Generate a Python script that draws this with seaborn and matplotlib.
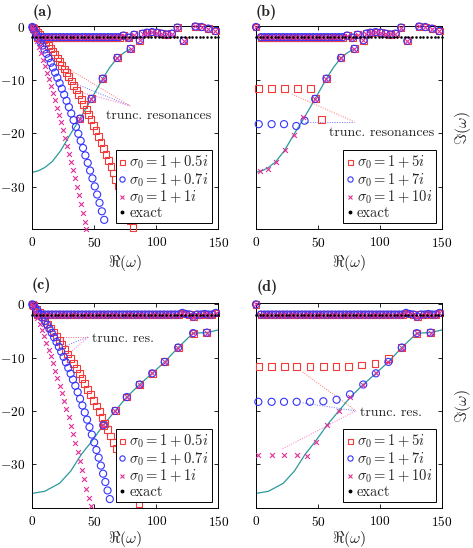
import matplotlib
matplotlib.use("Agg")
import matplotlib.pyplot as plt
import seaborn as sns
from matplotlib.lines import Line2D

# ---------- data ----------
# panels (a)/(b): shared top row of resonances and the teal branch
top_ab_x = [4, 7, 10, 13, 16, 19, 22, 25, 28, 31, 34, 37, 40, 43, 46, 49, 52, 55, 58, 61, 64, 67, 70,
            73.5, 77.7, 82, 86.7, 89, 92.5, 96.5, 100.5, 104.5, 108.5, 112.5, 117, 122, 131.5, 136.5, 142, 147.7]
top_ab_y = [-1.9, -1.9, -1.9, -1.9, -1.9, -1.9, -1.9, -1.9, -1.9, -1.9, -1.9, -1.9, -1.9, -1.9, -1.9,
            -1.9, -1.9, -1.9, -1.9, -1.9, -1.9, -1.9, -1.9,
            -1.6, -2.0, -1.45, -2.5, -1.25, -1.06, -0.95, -1.06, -1.25, -1.4, -1.25, -0.1, -2.6, 0.1, 0.0, -0.3, -0.75]
teal_ab_x = [0, 5, 10, 16, 23, 30, 38.5, 47.7, 56.8, 62.5, 68.5, 74, 79.3]
teal_ab_y = [-27.3, -27.0, -26.4, -25.3, -23.2, -20.4, -17.2, -13.5, -9.7, -7.6, -5.8, -4.8, -4.1]
res_ab_x = [47.7, 56.8, 68.5, 79.3]
res_ab_y = [-13.5, -9.7, -5.8, -4.1]

# panel (a): truncated resonances, sigma0 = 1 + 0.5i / 0.7i / 1i
sq_a_x = [1.0, 2.6, 4.2, 5.9, 7.6, 9.3, 11.0, 12.8, 14.6, 16.4, 18.2, 20.0, 21.9, 23.8, 25.7, 27.6, 29.5,
          31.4, 33.4, 35.4, 37.4, 39.4, 41.4, 43.4, 45.4, 47.4, 49.4, 51.4, 53.4, 55.4, 57.4, 59.4, 61.4,
          63.4, 65.4, 67.4, 69.4, 71.4, 73.4, 75.4, 77.4, 79.4, 81.2]
sq_a_y = [-0.24, -0.63, -1.03, -1.48, -1.94, -2.42, -2.92, -3.46, -4.02, -4.60, -5.20, -5.81, -6.48, -7.17,
          -7.88, -8.61, -9.37, -10.14, -10.97, -11.83, -12.71, -13.61, -14.54, -15.49, -16.46, -17.45,
          -18.47, -19.50, -20.57, -21.65, -22.75, -23.88, -25.04, -26.21, -27.41, -28.63, -29.87, -31.13,
          -32.43, -33.73, -35.07, -36.42, -37.6]
ci_a_x = [0.6, 2.0, 3.5, 5.0, 6.6, 8.2, 9.8, 11.5, 13.2, 14.9, 16.6, 18.4, 20.2, 22.0, 23.8, 25.7, 27.6,
          29.5, 31.4, 33.3, 35.2, 37.1, 39.0, 40.9, 42.8, 44.7, 46.6, 48.5, 50.4, 52.3, 54.2, 56.1, 58.0]
ci_a_y = [-0.24, -0.80, -1.42, -2.06, -2.76, -3.48, -4.22, -5.03, -5.86, -6.72, -7.60, -8.56, -9.54,
          -10.55, -11.59, -12.71, -13.86, -15.04, -16.25, -17.49, -18.76, -20.05, -21.38, -22.73, -24.12,
          -25.53, -26.97, -28.44, -29.94, -31.47, -33.03, -34.62, -36.23]
xx_a_x = [0.5, 2.1, 3.7, 5.3, 6.9, 8.5, 10.1, 11.7, 13.3, 14.9, 16.5, 18.1, 19.7, 21.3, 22.9, 24.5, 26.1,
          27.7, 29.3, 30.9, 32.5, 34.1, 35.7, 37.3, 38.9, 40.5, 42.1, 43.3]
xx_a_y = [-0.34, -1.45, -2.58, -3.73, -4.91, -6.11, -7.33, -8.57, -9.84, -11.13, -12.45, -13.78, -15.14,
          -16.53, -17.93, -19.36, -20.81, -22.29, -23.79, -25.31, -26.85, -28.42, -30.01, -31.63, -33.26,
          -34.92, -36.60, -37.88]
extra_a_x = [0, 38.4]
extra_a_y = [0, -17.2]

# panel (b): sigma0 = 1 + 5i / 7i / 10i
sq_b_x = [0, 2.2, 12.6, 22.8, 33.3, 43.8, 53.0]
sq_b_y = [0, -11.6, -11.6, -11.6, -11.6, -11.6, -17.4]
ci_b_x = [0, 2.2, 12.6, 22.6, 32.5, 39.2]
ci_b_y = [0, -18.25, -18.25, -18.25, -18.6, -17.6]
xx_b_x = [0, 3.2, 9.9, 16.1, 23.1, 30.4, 37.6]
xx_b_y = [0, -27.0, -26.6, -25.4, -23.1, -20.3, -16.9]

# panels (c)/(d): shared top row and the teal branch
top_cd_x = [4, 7, 10, 13, 16, 19, 22, 25, 28, 31, 34, 37, 40, 43, 46, 49, 52, 55, 58, 61, 64, 67, 70, 73,
            76, 79, 82, 85, 88, 91, 94, 97, 100, 103, 106, 109, 112, 115, 118, 121, 124, 127, 130, 133,
            136, 139, 142, 145, 148]
top_cd_y = [-1.9, -1.9, -1.9, -1.9, -1.9, -1.9, -1.9, -1.9, -1.9, -1.9, -1.9, -1.9, -1.9, -1.9, -1.9,
            -1.9, -1.9, -1.9, -1.9, -1.9, -1.9, -1.9, -1.9, -1.9, -1.9, -1.9, -1.9, -1.9, -1.9, -1.9,
            -1.9, -1.9, -1.9, -1.9, -1.9, -1.9, -1.9, -1.9, -1.9, -1.6, -1.8, -1.9, -2.3, -1.9, -1.9,
            -1.8, -1.9, -1.9, -1.6]
teal_cd_x = [0, 10, 22, 31, 39.5, 48, 57.2, 66.8, 76.2, 86.5, 96.7, 106.8, 117.6, 129.7, 140.8, 150]
teal_cd_y = [-35.5, -35.1, -33.6, -31.3, -28.2, -25.7, -22.7, -20.0, -17.4, -15.05, -12.95, -10.8, -8.1,
             -5.4, -5.3, -4.8]
res_cd_x = [57.2, 66.8, 76.2, 86.5, 96.7, 106.8, 117.6, 129.7, 140.8]
res_cd_y = [-22.7, -20.0, -17.4, -15.05, -12.95, -10.8, -8.1, -5.4, -5.3]

# panel (c): sigma0 = 1 + 0.5i / 0.7i / 1i
sq_c_x = [0, 1.0, 3.3, 5.6, 7.9, 10.2, 12.5, 14.8, 17.1, 19.4, 21.7, 24.0, 26.3, 28.6, 30.9, 33.2, 35.5,
          37.8, 40.1, 42.4, 44.7, 47.0, 49.3, 51.6, 53.9, 56.2, 58.5, 60.8, 63.1, 65.4, 67.7, 70.0, 72.3,
          74.6, 76.9, 79.2, 81.5, 83.8, 86.0]
sq_c_y = [0, -0.27, -0.91, -1.57, -2.25, -2.96, -3.68, -4.42, -5.18, -5.96, -6.77, -7.59, -8.44, -9.30,
          -10.19, -11.09, -12.02, -12.96, -13.93, -14.92, -15.93, -16.95, -18.00, -19.07, -20.16, -21.27,
          -22.40, -23.55, -24.72, -25.91, -27.13, -28.36, -29.61, -30.88, -32.18, -33.49, -34.83, -36.18,
          -37.49]
ci_c_x = [0.6, 2.4, 4.3, 6.2, 8.1, 10.0, 11.9, 13.8, 15.7, 17.6, 19.5, 21.4, 23.3, 25.2, 27.1, 29.0, 30.9,
          32.8, 34.7, 36.6, 38.5, 40.4, 42.3, 44.2, 46.1, 48.0, 49.9, 51.7, 53.5, 55.3, 57.1, 58.9, 60.7, 62.5]
ci_c_y = [-0.16, -0.65, -1.21, -1.81, -2.45, -3.12, -3.83, -4.58, -5.36, -6.19, -7.05, -7.95, -8.88, -9.85,
          -10.87, -11.91, -13.00, -14.12, -15.28, -16.48, -17.72, -18.99, -20.30, -21.65, -23.04, -24.46,
          -25.92, -27.34, -28.79, -30.28, -31.80, -33.35, -34.94, -36.56]
xx_c_x = [0.5, 2.3, 4.1, 5.9, 7.7, 9.5, 11.3, 13.1, 14.9, 16.7, 18.5, 20.3, 22.1, 23.9, 25.7, 27.5, 29.3,
          31.1, 32.9, 34.7, 36.5, 38.3, 40.1, 41.9, 43.7, 45.5, 47.0]
xx_c_y = [-0.29, -1.37, -2.48, -3.62, -4.79, -5.99, -7.22, -8.48, -9.77, -11.09, -12.44, -13.83, -15.24,
          -16.69, -18.16, -19.67, -21.21, -22.77, -24.38, -26.01, -27.66, -29.36, -31.08, -32.83, -34.61,
          -36.43, -37.9]

# panel (d): sigma0 = 1 + 5i / 7i / 10i
sq_d_x = [0, 2.5, 12.6, 22.8, 32.8, 43.5, 54.3, 64.5, 74.5, 85.2, 96.0, 106.7]
sq_d_y = [0, -11.7, -11.7, -11.7, -11.7, -11.7, -11.7, -11.7, -11.6, -11.4, -11.1, -10.1]
ci_d_x = [0, 1.9, 12.6, 22.6, 32.8, 43.5, 54.3, 65.0, 75.8]
ci_d_y = [0, -18.3, -18.3, -18.3, -18.3, -18.3, -18.2, -17.9, -16.9]
xx_d_x = [0, 1.9, 12.6, 22.6, 32.8, 41.4, 48.0]
xx_d_y = [0, -28.3, -28.3, -28.3, -28.3, -28.4, -25.8]

# exact resonances (black dots)
exact_x = [0, 3, 6, 9, 12, 15, 18, 21, 24, 27, 30, 33, 36, 39, 42, 45, 48, 51, 54, 57, 60, 63, 66, 69, 72,
           75, 78, 81, 84, 87, 90, 93, 96, 99, 102, 105, 108, 111, 114, 117, 120, 123, 126, 129, 132, 135,
           138, 141, 144, 147, 150]
exact_y = [-1.9] * len(exact_x)

labels_small = [r"$\sigma_0 = 1 + 0.5i$", r"$\sigma_0 = 1 + 0.7i$", r"$\sigma_0 = 1 + 1i$", "exact"]
labels_large = [r"$\sigma_0 = 1 + 5i$", r"$\sigma_0 = 1 + 7i$", r"$\sigma_0 = 1 + 10i$", "exact"]

# ---------- style ----------
RED = "#f23c3c"
BLUE = "#3434ff"
MAG = "#e0309a"
TEAL = "#2a9a9a"
FS = 10.5

sns.set_style("ticks")
plt.rcParams.update({
    "font.family": ["cmr10", "DejaVu Serif"],
    "mathtext.fontset": "cm",
    "axes.formatter.use_mathtext": True,
    "font.size": FS,
    "axes.edgecolor": "black",
    "axes.linewidth": 0.7,
    "xtick.direction": "in", "ytick.direction": "in",
    "xtick.top": True, "ytick.right": True,
    "xtick.major.size": 3, "ytick.major.size": 3,
    "xtick.major.width": 0.6, "ytick.major.width": 0.6,
    "xtick.color": "black", "ytick.color": "black",
    "xtick.labelsize": 9.6, "ytick.labelsize": 9.6,
    "xtick.major.pad": 5, "ytick.major.pad": 5.5,
})

fig = plt.figure(figsize=(4.73, 5.48), dpi=100)
ax_a = fig.add_axes([0.0683, 0.5816, 0.3932, 0.3706])
ax_b = fig.add_axes([0.5412, 0.5816, 0.3932, 0.3706])
ax_c = fig.add_axes([0.0683, 0.0724, 0.3932, 0.3741])
ax_d = fig.add_axes([0.5412, 0.0724, 0.3932, 0.3741])


def draw_panel(ax, teal, sq, ci, xx, labels, notes, text_pos, text, right, ylim, xlab_y):
    sns.lineplot(x=teal[0], y=teal[1], color=TEAL, lw=0.9, ax=ax, zorder=2, sort=False)
    for (x0, y0, x1, y1), c in notes:
        ax.plot([x0, x1], [y0, y1], ls=(0, (1, 1.5)), lw=0.7, color=c, zorder=1)
    ax.text(text_pos[0], text_pos[1], text, ha="left", va="center", fontsize=10, zorder=2)
    sns.scatterplot(x=sq[0], y=sq[1], marker="s", s=24, facecolor="none", edgecolor=RED,
                    linewidth=0.8, ax=ax, zorder=3, clip_on=False)
    sns.scatterplot(x=ci[0], y=ci[1], marker="o", s=26, facecolor="none", edgecolor=BLUE,
                    linewidth=0.8, ax=ax, zorder=4, clip_on=False)
    sns.scatterplot(x=xx[0], y=xx[1], marker="x", s=12, color=MAG,
                    linewidth=0.8, ax=ax, zorder=5, clip_on=False)
    sns.scatterplot(x=exact_x, y=exact_y, marker="o", s=3.5, color="black",
                    linewidth=0, ax=ax, zorder=6, clip_on=False)
    ax.set_xlim(0, 150)
    ax.set_ylim(*ylim)
    ax.set_xticks([0, 50, 100, 150])
    ax.set_yticks([-30, -20, -10, 0])
    ax.set_xlabel(r"$\Re(\omega)$", fontsize=11.5, va="center")
    ax.xaxis.set_label_coords(0.5, xlab_y)
    if right:
        ax.tick_params(labelleft=False)
        ax.yaxis.set_label_position("right")
        ax.set_ylabel(r"$\Im(\omega)$", fontsize=11.5, va="center")
        ax.yaxis.set_label_coords(1.113, 0.5)
    else:
        ax.set_ylabel("")
    handles = [
        Line2D([], [], ls="none", marker="s", ms=3.6, mfc="none", mec=RED, mew=0.8),
        Line2D([], [], ls="none", marker="o", ms=3.8, mfc="none", mec=BLUE, mew=0.8),
        Line2D([], [], ls="none", marker="x", ms=3.0, mec=MAG, mew=0.8),
        Line2D([], [], ls="none", marker="o", ms=1.8, mfc="black", mec="black"),
    ]
    leg = ax.legend(handles, labels, loc="lower right", frameon=True, fancybox=False,
                    edgecolor="black", framealpha=1, handlelength=0.4, handletextpad=0.3,
                    borderaxespad=0.4, labelspacing=0.0, borderpad=0.25, fontsize=FS)
    leg.get_frame().set_linewidth(0.7)
    leg.set_zorder(10)


# (a)
draw_panel(ax_a, (teal_ab_x, teal_ab_y),
           (extra_a_x + sq_a_x + top_ab_x + res_ab_x, extra_a_y + sq_a_y + top_ab_y + res_ab_y),
           (extra_a_x + ci_a_x + top_ab_x + res_ab_x, extra_a_y + ci_a_y + top_ab_y + res_ab_y),
           (extra_a_x + xx_a_x + top_ab_x + res_ab_x, extra_a_y + xx_a_y + top_ab_y + res_ab_y),
           labels_small,
           [((26.5, -7.5, 78.8, -14.8), "#ff7070"), ((27.7, -10.0, 78.8, -14.8), "#7070ff"),
            ((29.0, -11.6, 78.8, -14.8), "#ff70c8")],
           (59.5, -16.8), "trunc. resonances", False, (-38.0, 0.15), -0.167)
# (b)
draw_panel(ax_b, (teal_ab_x, teal_ab_y),
           (sq_b_x + top_ab_x + res_ab_x, sq_b_y + top_ab_y + res_ab_y),
           (ci_b_x + top_ab_x + res_ab_x, ci_b_y + top_ab_y + res_ab_y),
           (xx_b_x + top_ab_x + res_ab_x, xx_b_y + top_ab_y + res_ab_y),
           labels_large,
           [((28.8, -12.6, 79.2, -17.8), "#ff7070"), ((39.3, -17.8, 79.2, -17.8), "#7070ff")],
           (59.0, -19.9), "trunc. resonances", True, (-38.0, 0.15), -0.167)
# (c)
draw_panel(ax_c, (teal_cd_x, teal_cd_y),
           (sq_c_x + top_cd_x + res_cd_x, sq_c_y + top_cd_y + res_cd_y),
           ([0] + ci_c_x + top_cd_x + res_cd_x, [0] + ci_c_y + top_cd_y + res_cd_y),
           ([0] + xx_c_x + top_cd_x + res_cd_x, [0] + xx_c_y + top_cd_y + res_cd_y),
           labels_small,
           [((25.0, -6.1, 45.2, -6.1), "#ff7070"), ((27.7, -7.7, 45.2, -6.1), "#7070ff"),
            ((27.7, -9.6, 45.2, -6.1), "#ff70c8")],
           (48.5, -6.4), "trunc. res.", False, (-38.3, 0.2), -0.15)
# (d)
draw_panel(ax_d, (teal_cd_x, teal_cd_y),
           (sq_d_x + top_cd_x + res_cd_x[6:], sq_d_y + top_cd_y + res_cd_y[6:]),
           (ci_d_x + top_cd_x + res_cd_x[3:], ci_d_y + top_cd_y + res_cd_y[3:]),
           (xx_d_x + top_cd_x + res_cd_x, xx_d_y + top_cd_y + res_cd_y),
           labels_large,
           [((37.6, -12.7, 80.6, -20.0), "#ff7070"), ((37.6, -18.5, 80.6, -20.0), "#7070ff"),
            ((21.5, -27.1, 80.6, -20.0), "#ff70c8")],
           (84.0, -20.4), "trunc. res.", True, (-38.3, 0.2), -0.15)

# panel letters
for lab, xp, yp in [("(a)", 0.068, 0.977), ("(b)", 0.541, 0.977), ("(c)", 0.066, 0.479), ("(d)", 0.543, 0.475)]:
    fig.text(xp, yp, lab, fontsize=11.5, family="cmb10", ha="left", va="center")

fig.savefig("out.png", dpi=100)
